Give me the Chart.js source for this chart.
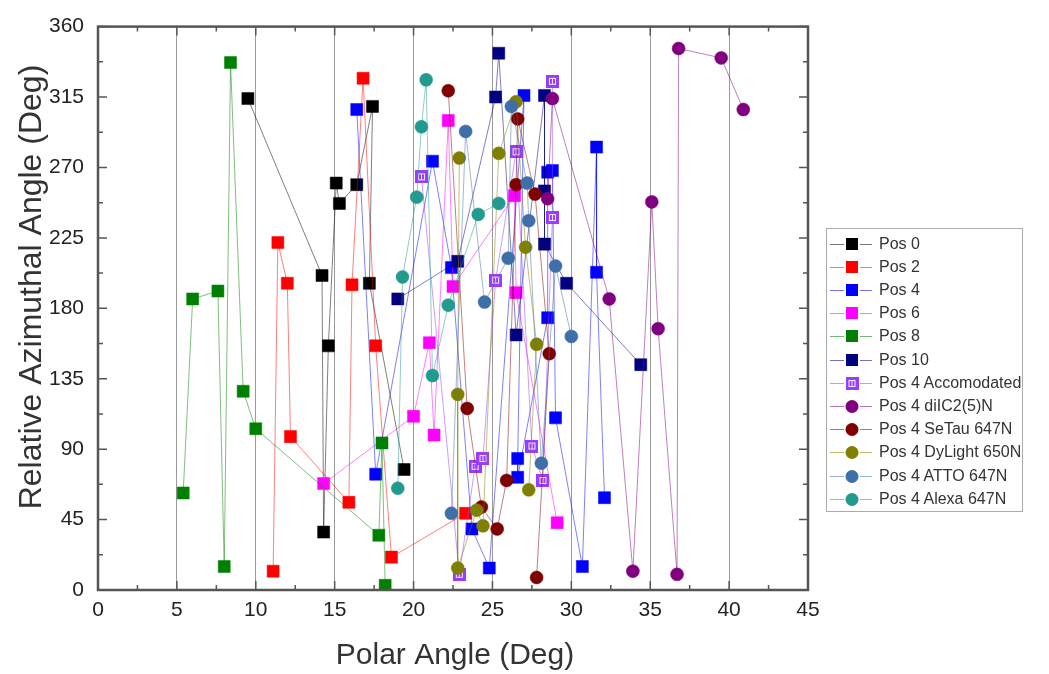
<!DOCTYPE html>
<html><head><meta charset="utf-8">
<script src="https://cdn.jsdelivr.net/npm/chart.js@4/dist/chart.umd.min.js"></script>
<style>
html,body{margin:0;padding:0;background:#fff;}
#wrap{position:relative;width:1049px;height:674px;}
#legend{position:absolute;left:826px;top:228px;width:197px;height:284px;border:1px solid #aaa;box-sizing:border-box;font-family:"Liberation Sans",Arial,sans-serif;font-size:16px;color:#333;background:#fff;}
.row{position:absolute;left:0;height:23px;display:flex;align-items:center;}
.row canvas{margin-left:3px;display:block;}
.row span{margin-left:7px;white-space:nowrap;}
</style></head>
<body><div id="wrap"><canvas id="c" width="1049" height="674"></canvas><div id="legend"></div></div>
<script>
// ---- tick labels ----
const xTicks = [0,5,10,15,20,25,30,35,40,45];
const yTicks = [0,45,90,135,180,225,270,315,360];

// ---- series names ----
const seriesNames = ["Pos 0","Pos 2","Pos 4","Pos 6","Pos 8","Pos 10","Pos 4 Accomodated",
  "Pos 4 diIC2(5)N","Pos 4 SeTau 647N","Pos 4 DyLight 650N","Pos 4 ATTO 647N","Pos 4 Alexa 647N"];

// ---- series values [polar, azimuthal] ----
const pos0 = [[9.5,314],[14.2,201],[14.3,37],[14.6,156],[15.1,260],[15.3,247],[16.4,259],[17.4,309],[17.2,196],[19.4,77]];
const pos2 = [[11.1,12],[11.4,222],[12.0,196],[12.2,98],[15.9,56],[16.1,195],[16.8,327],[17.6,156],[18.6,21],[23.3,49]];
const pos4 = [[16.4,307],[17.6,74],[21.2,274],[22.4,206],[23.7,39],[24.8,14],[27.0,316],[26.6,84],[26.6,72],[28.5,174],[28.5,267],[28.8,268],[29.0,110],[30.7,15],[31.6,283],[31.6,203],[32.1,59]];
const pos6 = [[14.3,68],[20.0,111],[21.0,158],[21.3,99],[22.2,300],[22.5,194],[26.4,252],[26.5,190],[29.1,43]];
const pos8 = [[5.4,62],[6.0,186],[7.6,191],[8.0,15],[8.4,337],[9.2,127],[10.0,103],[17.8,35],[18.0,94],[18.2,3]];
const pos10 = [[19.0,186],[22.8,210],[25.2,315],[25.4,343],[26.5,163],[28.3,316],[28.3,255],[28.3,221],[29.7,196],[34.4,144]];
const pos4Acc = [[20.5,264],[22.9,10],[23.9,79],[24.4,84],[25.2,198],[26.5,280],[27.5,92],[28.2,70],[28.8,238],[28.8,325]];
const pos4DiIC = [[28.5,250],[28.8,314],[32.4,186],[33.9,12],[35.1,248],[35.5,167],[36.7,10],[36.8,346],[39.5,340],[40.9,307]];
const pos4SeTau = [[22.2,319],[23.4,116],[24.3,53],[25.3,39],[25.9,70],[26.5,259],[26.6,301],[27.7,253],[28.6,151],[27.8,8]];
const pos4DyLight = [[22.9,276],[22.8,125],[22.8,14],[24.0,51],[24.4,41],[25.4,279],[26.5,312],[27.1,219],[27.8,157],[27.3,64]];
const pos4Atto = [[22.4,49],[23.3,293],[24.5,184],[26.0,212],[26.2,309],[27.2,260],[27.3,236],[28.1,81],[29.0,207],[30.0,162]];
const pos4Alexa = [[19.0,65],[19.3,200],[20.2,251],[20.5,296],[20.8,326],[21.2,137],[22.2,182],[24.1,240],[25.4,247]];

const seriesData = [pos0,pos2,pos4,pos6,pos8,pos10,pos4Acc,pos4DiIC,pos4SeTau,pos4DyLight,pos4Atto,pos4Alexa];
const colors = ["#000000","#ff0000","#0000ff","#ff00ff","#008000","#000080","#9a3cff","#800080","#800000","#808000","#3f6fa8","#229a8e"];
const shapes = ["rect","rect","rect","rect","rect","rect","hatch","circle","circle","circle","circle","circle"];

function hexA(h,a){const r=parseInt(h.substr(1,2),16),g=parseInt(h.substr(3,2),16),b=parseInt(h.substr(5,2),16);return `rgba(${r},${g},${b},${a})`;}

function hatchCanvas(col){
  const c=document.createElement('canvas');c.width=13;c.height=13;
  const x=c.getContext('2d');
  x.fillStyle=col;x.fillRect(0,0,13,13);
  x.strokeStyle='rgba(255,255,255,0.9)';x.lineWidth=1;
  x.strokeRect(3.5,3.5,6,6);
  x.beginPath();x.moveTo(6.5,3.5);x.lineTo(6.5,9.5);x.stroke();
  return c;
}
const hatchImg = hatchCanvas(colors[6]);

const FONT = '"Liberation Sans", Arial, sans-serif';

const datasets = seriesData.map((d,i)=>{
  const sh=shapes[i];
  return {
    label: seriesNames[i],
    data: d.map(p=>({x:p[0],y:p[1]})),
    showLine:true,
    borderColor: hexA(colors[i],0.5),
    borderWidth:1,
    backgroundColor: colors[i],
    pointBackgroundColor: colors[i],
    pointBorderColor: hexA(colors[i],0.5),
    pointBorderWidth:1,
    pointStyle: sh==='hatch'?hatchImg:sh,
    pointRadius: sh==='rect'?8.5:6.5,
    order:-i
  };
});

const framePlugin = {
  id:'frame',
  afterDraw(chart){
    const ctx=chart.ctx, a=chart.chartArea, xs=chart.scales.x, ys=chart.scales.y;
    ctx.save();
    ctx.strokeStyle='#555';ctx.lineWidth=1.5;
    for(let v=0; v<=360; v+=22.5){
      const y=ys.getPixelForValue(v);
      const L=(v%45===0)?9:5;
      ctx.beginPath();ctx.moveTo(a.left,y);ctx.lineTo(a.left+L,y);ctx.moveTo(a.right,y);ctx.lineTo(a.right-L,y);ctx.stroke();
    }
    for(let v=0; v<=45; v+=2.5){
      const x=xs.getPixelForValue(v);
      const L=(v%5===0)?9:5;
      ctx.beginPath();ctx.moveTo(x,a.bottom);ctx.lineTo(x,a.bottom-L);ctx.moveTo(x,a.top);ctx.lineTo(x,a.top+L);ctx.stroke();
    }
    ctx.strokeStyle='#555';ctx.lineWidth=2.5;
    ctx.strokeRect(a.left,a.top,a.right-a.left,a.bottom-a.top);
    ctx.fillStyle='#333';
    ctx.textAlign='center';ctx.textBaseline='middle';
    ctx.font='30px '+FONT;
    ctx.fillText('Polar Angle (Deg)', (a.left+a.right)/2+2, 656);
    ctx.font='32px '+FONT;
    ctx.translate(32,287);
    ctx.rotate(-Math.PI/2);
    ctx.fillText('Relative Azimuthal Angle (Deg)',0,0);
    ctx.restore();
  }
};

new Chart(document.getElementById('c'),{
  type:'scatter',
  data:{datasets},
  options:{
    responsive:false,animation:false,
    layout:{padding:{left:0,right:241,top:22,bottom:0}},
    plugins:{legend:{display:false},tooltip:{enabled:false}},
    scales:{
      x:{type:'linear',min:0,max:45,
        afterBuildTicks(s){s.ticks=xTicks.map(v=>({value:v}));},
        afterFit(s){s.height=84;},
        ticks:{font:{size:21,family:FONT},color:'#222',padding:8},
        grid:{color:'#9a9a9a',lineWidth:1,drawTicks:false},
        border:{display:false}},
      y:{type:'linear',min:0,max:360,
        afterBuildTicks(s){s.ticks=yTicks.map(v=>({value:v}));},
        afterFit(s){s.width=98;},
        ticks:{font:{size:21,family:FONT},color:'#222',padding:14},
        grid:{display:false,drawTicks:false},
        border:{display:false}}
    }
  },
  plugins:[framePlugin]
});

const leg=document.getElementById('legend');
seriesNames.forEach((n,i)=>{
  const row=document.createElement('div');row.className='row';row.style.top=(3+i*23.2)+'px';
  const c=document.createElement('canvas');c.width=42;c.height=20;
  const x=c.getContext('2d');
  x.strokeStyle=hexA(colors[i],0.55);x.lineWidth=1;
  x.beginPath();x.moveTo(0,10.5);x.lineTo(14,10.5);x.moveTo(30,10.5);x.lineTo(42,10.5);x.stroke();
  if(shapes[i]==='rect'){x.fillStyle=colors[i];x.fillRect(16,4,12,12);}
  else if(shapes[i]==='hatch'){x.drawImage(hatchImg,15.5,4);}
  else {x.fillStyle=colors[i];x.beginPath();x.arc(22,10.5,6.5,0,Math.PI*2);x.fill();}
  const s=document.createElement('span');s.textContent=n;
  row.appendChild(c);row.appendChild(s);leg.appendChild(row);
});
</script>
</body></html>
